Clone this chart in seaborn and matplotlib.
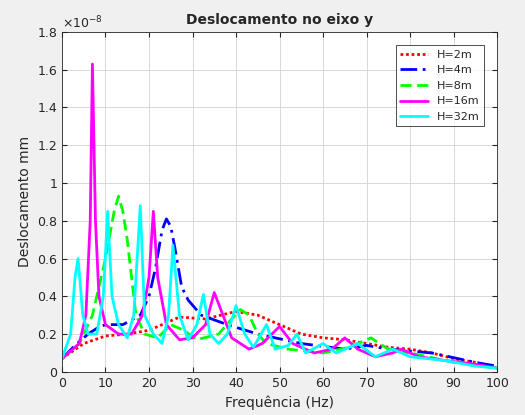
import numpy as np
import pandas as pd
import seaborn as sns
import matplotlib.pyplot as plt
from matplotlib.ticker import FuncFormatter

# Valores (unidade 1e-8 mm)
f_2m = [0, 5, 10, 15, 20, 27, 33, 40, 45, 50, 55, 60, 65, 70, 75, 80, 85, 90, 95, 100]
v_2m = [0.07, 0.15, 0.19, 0.2, 0.22, 0.29, 0.28, 0.32, 0.30, 0.25, 0.2, 0.18, 0.17, 0.15, 0.13, 0.12, 0.1, 0.07, 0.05, 0.02]

f_4m = [0, 3, 6, 8, 10, 14, 18, 20, 21.5, 23, 24, 25, 26, 27.5, 29, 32, 38, 45, 55, 65, 70, 75, 85, 95, 100]
v_4m = [0.07, 0.14, 0.2, 0.23, 0.25, 0.25, 0.3, 0.4, 0.55, 0.75, 0.81, 0.77, 0.65, 0.45, 0.38, 0.3, 0.25, 0.2, 0.15, 0.12, 0.14, 0.12, 0.1, 0.05, 0.03]

f_8m = [0, 4, 7, 10, 12, 13, 14, 15, 17, 19, 22, 25, 28, 31, 36, 39, 41, 43, 45, 47, 52, 60, 66, 69, 71, 73, 75, 80, 90, 100]
v_8m = [0.07, 0.15, 0.3, 0.6, 0.85, 0.93, 0.85, 0.7, 0.3, 0.2, 0.18, 0.25, 0.22, 0.17, 0.2, 0.28, 0.33, 0.3, 0.2, 0.15, 0.12, 0.1, 0.13, 0.16, 0.18, 0.15, 0.12, 0.1, 0.05, 0.02]

f_16m = [0, 4, 5.5, 6.5, 7, 7.7, 8.5, 10, 13, 16, 18.5, 20, 21, 22, 24, 27, 30, 33, 35, 37, 39, 43, 46, 50, 53, 58, 62, 65, 68, 72, 76, 78, 82, 88, 95, 100]
v_16m = [0.07, 0.15, 0.3, 0.8, 1.63, 0.8, 0.4, 0.25, 0.2, 0.2, 0.3, 0.5, 0.85, 0.5, 0.25, 0.17, 0.18, 0.25, 0.42, 0.3, 0.18, 0.12, 0.15, 0.24, 0.15, 0.1, 0.12, 0.18, 0.12, 0.08, 0.1, 0.12, 0.08, 0.06, 0.04, 0.02]

f_32m = [0, 2, 3, 3.7, 4.8, 6, 8, 9.5, 10.5, 11.5, 13, 15, 16.5, 18, 19, 21, 23, 24.5, 25.5, 27, 29, 31, 32.5, 34, 36, 38, 40, 42, 44, 47, 49, 52, 54, 56, 60, 63, 68, 72, 76, 80, 88, 95, 100]
v_32m = [0.07, 0.2, 0.5, 0.6, 0.3, 0.2, 0.2, 0.4, 0.85, 0.4, 0.25, 0.18, 0.3, 0.88, 0.3, 0.2, 0.15, 0.3, 0.67, 0.3, 0.17, 0.25, 0.41, 0.2, 0.15, 0.2, 0.35, 0.2, 0.13, 0.25, 0.12, 0.14, 0.2, 0.1, 0.15, 0.1, 0.15, 0.08, 0.12, 0.08, 0.06, 0.03, 0.02]

series = [
    ("H=2m", f_2m, v_2m, "red", (0, (1, 1))),
    ("H=4m", f_4m, v_4m, "#0000ff", (0, (6, 2, 1, 2))),
    ("H=8m", f_8m, v_8m, "#00ff00", (0, (4, 2))),
    ("H=16m", f_16m, v_16m, "#ff00ff", "-"),
    ("H=32m", f_32m, v_32m, "#00ffff", "-"),
]

sns.set_style("ticks")
fig = plt.figure(figsize=(5.25, 4.15), dpi=100, facecolor="#f0f0f0")
ax = fig.add_axes([0.118, 0.104, 0.829, 0.819])

for nome, f, v, cor, ls in series:
    sns.lineplot(x=f, y=v, ax=ax, color=cor, linestyle=ls, linewidth=2, label=nome)

ax.set_xlim(0, 100)
ax.set_ylim(0, 1.8)
ax.set_xticks(np.arange(0, 101, 10))
ax.set_yticks(np.arange(0, 1.81, 0.2))
ax.yaxis.set_major_formatter(FuncFormatter(lambda y, p: f"{y:g}"))
ax.grid(True, color="#d9d9d9", linewidth=0.7)
ax.tick_params(direction="in", labelsize=9, top=True, right=True)
for s in ax.spines.values():
    s.set_color("#262626")
    s.set_linewidth(0.6)
ax.text(0, 1.01, r"$\times10^{-8}$", transform=ax.transAxes, fontsize=9)
ax.set_title("Deslocamento no eixo y", fontsize=10, fontweight="bold")
ax.set_xlabel("Frequência (Hz)", fontsize=10)
ax.set_ylabel("Deslocamento mm", fontsize=10)
leg = ax.legend(loc="upper right", fontsize=8, fancybox=False, edgecolor="black",
                handlelength=2.5, borderaxespad=1.2)
leg.get_frame().set_linewidth(0.6)

fig.savefig("out.png", dpi=100, facecolor=fig.get_facecolor())
